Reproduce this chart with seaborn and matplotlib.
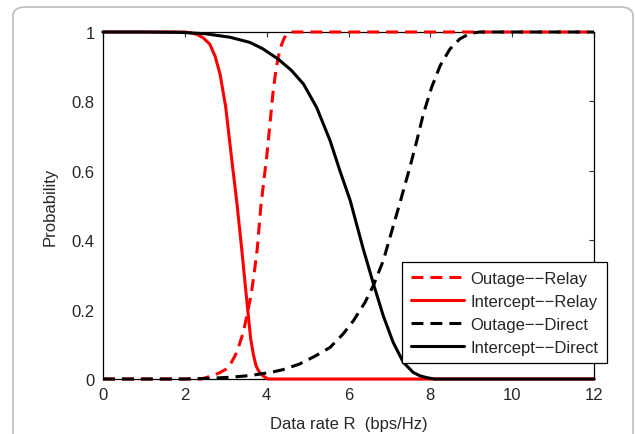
import matplotlib
matplotlib.use("Agg")
import matplotlib.pyplot as plt
import seaborn as sns
from matplotlib.patches import FancyBboxPatch

sns.set_style("white")
plt.rcParams['font.family'] = ['Liberation Sans', 'DejaVu Sans']

# Outage -- Relay (red dashed)
out_relay_x = [0, 1, 2, 2.4, 2.69, 2.85, 3.02, 3.15, 3.27, 3.43, 3.53, 3.63, 3.7, 3.77, 3.86, 3.93, 4.0, 4.08, 4.16, 4.22, 4.28, 4.36, 4.43, 4.5, 4.6, 5, 6, 8, 10, 12]
out_relay_y = [0, 0, 0, 0, 0.01, 0.018, 0.029, 0.05, 0.077, 0.135, 0.19, 0.25, 0.31, 0.375, 0.5, 0.57, 0.64, 0.735, 0.831, 0.885, 0.927, 0.962, 0.983, 0.994, 1, 1, 1, 1, 1, 1]

# Intercept -- Relay (red solid)
int_relay_x = [0, 1, 2, 2.13, 2.3, 2.45, 2.61, 2.74, 2.86, 3.0, 3.14, 3.27, 3.39, 3.51, 3.61, 3.68, 3.74, 3.82, 3.92, 4.03, 5, 6, 8, 10, 12]
int_relay_y = [1, 1, 1, 0.998, 0.993, 0.983, 0.965, 0.93, 0.879, 0.783, 0.639, 0.51, 0.375, 0.231, 0.115, 0.068, 0.038, 0.02, 0.008, 0, 0, 0, 0, 0, 0]

# Outage -- Direct (black dashed)
out_direct_x = [0, 1, 2, 2.6, 3.1, 3.6, 4.1, 4.4, 4.8, 5.2, 5.55, 5.87, 6.12, 6.4, 6.61, 6.85, 7.05, 7.26, 7.5, 7.67, 7.83, 8.03, 8.24, 8.48, 8.72, 8.97, 9.2, 10, 12]
out_direct_y = [0, 0, 0, 0.002, 0.005, 0.01, 0.019, 0.027, 0.043, 0.067, 0.091, 0.13, 0.168, 0.22, 0.27, 0.341, 0.423, 0.509, 0.61, 0.687, 0.764, 0.84, 0.903, 0.951, 0.98, 0.996, 1, 1, 1]

# Intercept -- Direct (black solid)
int_direct_x = [0, 1, 1.88, 2.5, 3.1, 3.59, 3.9, 4.28, 4.6, 4.9, 5.22, 5.55, 5.79, 6.04, 6.36, 6.61, 6.85, 7.09, 7.34, 7.58, 7.75, 7.91, 8.1, 10, 12]
int_direct_y = [1, 1, 0.999, 0.995, 0.985, 0.97, 0.952, 0.922, 0.89, 0.85, 0.783, 0.687, 0.6, 0.515, 0.375, 0.274, 0.182, 0.106, 0.048, 0.019, 0.009, 0.004, 0, 0, 0]

labels = ["Outage\u2212\u2212Relay", "Intercept\u2212\u2212Relay",
          "Outage\u2212\u2212Direct", "Intercept\u2212\u2212Direct"]

fig = plt.figure(figsize=(6.35, 4.35), dpi=100)
border = FancyBboxPatch((13/635, -0.05), 620/635, 1 - 8/435 + 0.05,
                        boxstyle="round,pad=0,rounding_size=0.02",
                        transform=fig.transFigure, fill=False,
                        edgecolor="#bdbdbd", linewidth=1.2)
fig.patches.append(border)

ax = fig.add_axes([103/635, 1 - 380/435, (594 - 103)/635, (380 - 33)/435])

dash = (3.9, 2.3)
lw = 2.2
series = [
    (out_relay_x, out_relay_y, "#ff0000", True, labels[0]),
    (int_relay_x, int_relay_y, "#ff0000", False, labels[1]),
    (out_direct_x, out_direct_y, "black", True, labels[2]),
    (int_direct_x, int_direct_y, "black", False, labels[3]),
]
for i, (xs, ys, col, dashed, lab) in enumerate(series):
    sns.lineplot(x=xs, y=ys, ax=ax, color=col, lw=lw, label=lab, sort=False)
    ln = ax.lines[-1]
    if dashed:
        ln.set_dashes(dash)
    ln.set_clip_on(False)
    ln.set_zorder(3 + i * 0.1)

ax.set_xlim(0, 12)
ax.set_ylim(0, 1)
ax.set_xticks([0, 2, 4, 6, 8, 10, 12])
ax.set_yticks([0, 0.2, 0.4, 0.6, 0.8, 1])
ax.set_xticklabels(["0", "2", "4", "6", "8", "10", "12"])
ax.set_yticklabels(["0", "0.2", "0.4", "0.6", "0.8", "1"])
ax.tick_params(direction="in", length=3.6, width=0.8, top=True, right=True,
               labelsize=12, color="#333333", pad=6)
for s in ax.spines.values():
    s.set_visible(True)
    s.set_color("black")
    s.set_linewidth(0.9)
ax.set_xlabel("Data rate R  (bps/Hz)", fontsize=12, labelpad=10)
ax.set_ylabel("Probability", fontsize=12, labelpad=10)

leg = ax.legend(loc="lower right", bbox_to_anchor=(607/635, 1 - 364/435),
                bbox_transform=fig.transFigure, fontsize=12,
                frameon=True, fancybox=False, edgecolor="black", framealpha=1,
                borderpad=0.5, labelspacing=0.48, handlelength=3.2, handletextpad=0.4,
                borderaxespad=0)
leg.get_frame().set_linewidth(0.9)
leg.set_zorder(10)

fig.savefig("out.png", dpi=100)
